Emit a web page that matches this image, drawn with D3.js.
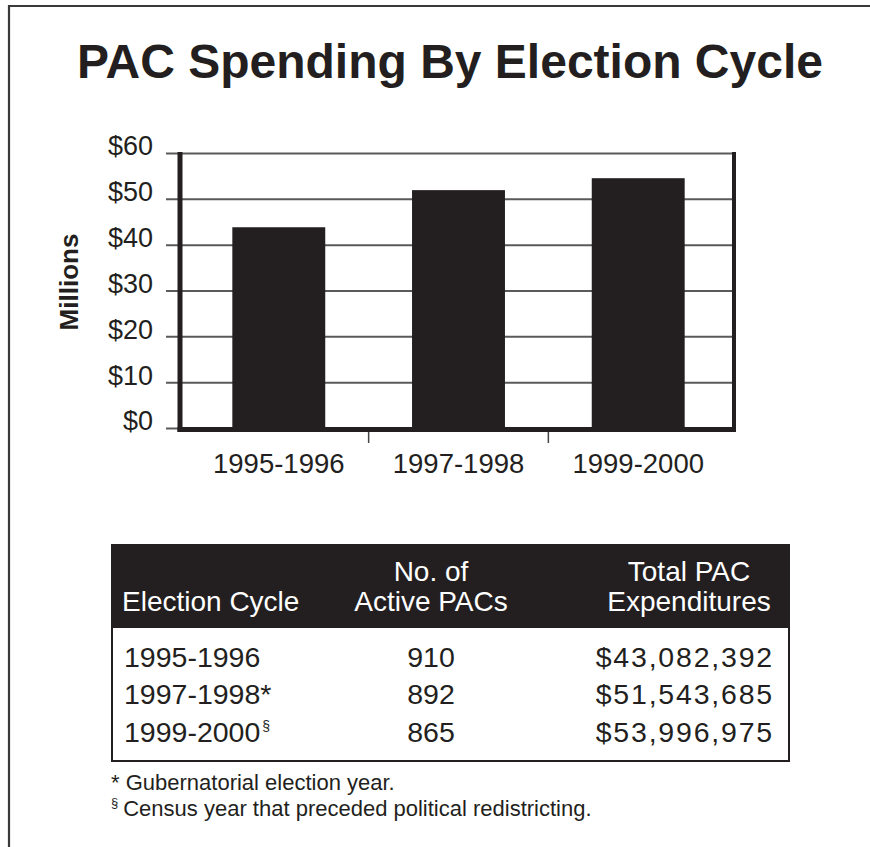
<!DOCTYPE html>
<html>
<head>
<meta charset="utf-8">
<script src="https://cdn.jsdelivr.net/npm/d3@7/dist/d3.min.js"></script>
<style>
  html, body { margin: 0; padding: 0; background: #fff; }
  svg { display: block; }
  text { font-family: "Liberation Sans", Arial, Helvetica, sans-serif; fill: #231f20; }
</style>
</head>
<body>
<svg id="chart" width="870" height="847"></svg>
<script>
// ---- data ----
const title = "PAC Spending By Election Cycle";
const yAxisTitle = "Millions";
const categories = ["1995-1996", "1997-1998", "1999-2000"];
const spendingMillions = [43.8, 51.9, 54.5];           // bar heights as drawn
const yTicks = [0, 10, 20, 30, 40, 50, 60];
const yTickLabels = ["$0", "$10", "$20", "$30", "$40", "$50", "$60"];

const tableHeaders = [["Election Cycle"], ["No. of", "Active PACs"], ["Total PAC", "Expenditures"]];
const tableCycles = ["1995-1996", "1997-1998", "1999-2000"];
const tableMarks = ["", "*", "§"];
const tablePACs = ["910", "892", "865"];
const tableExpenditures = ["$43,082,392", "$51,543,685", "$53,996,975"];
const footnoteMarks = ["*", "§"];
const footnotes = ["Gubernatorial election year.", "Census year that preceded political redistricting."];

// ---- drawing ----
const ink = "#231f20";
const svg = d3.select("#chart");

// outer frame (cropped on right/bottom)
svg.append("path").attr("d", "M9,847 V6 H870").attr("fill", "none")
   .attr("stroke", "#3a3a3a").attr("stroke-width", 2.2);

svg.append("text").attr("x", 450).attr("y", 78).attr("text-anchor", "middle")
   .attr("font-size", 48).attr("font-weight", "bold").text(title);

const plotL = 180, plotR = 733, plotT = 153, plotB = 428;

const y = d3.scaleLinear().domain([0, 60]).range([plotB, plotT]);
const x = d3.scaleBand().domain(categories).range([182, 735])
  .paddingInner(0.483).paddingOuter(0.28);

// y axis: ticks double as gridlines, placed at right edge
const yAxis = d3.axisLeft(y).tickValues(yTicks)
  .tickFormat((d, i) => yTickLabels[i])
  .tickSize(plotR - 166).tickPadding(13);
const gy = svg.append("g").attr("transform", `translate(${plotR},0)`).call(yAxis);
gy.select(".domain").remove();
gy.selectAll(".tick line").attr("stroke", "#5a5a5a").attr("stroke-width", 2);
gy.selectAll(".tick text").attr("font-size", 27).attr("dy", "0.07em")
  .attr("fill", ink).attr("font-family", '"Liberation Sans", Arial, sans-serif');

// bars
svg.append("g").selectAll("rect").data(categories).join("rect")
  .attr("x", d => x(d)).attr("width", x.bandwidth())
  .attr("y", (d, i) => y(spendingMillions[i]))
  .attr("height", (d, i) => plotB - y(spendingMillions[i]))
  .attr("fill", ink);

// frame: thick left, bottom, right
svg.append("line").attr("x1", plotL).attr("x2", plotL).attr("y1", plotT - 1).attr("y2", plotB + 4)
  .attr("stroke", ink).attr("stroke-width", 5);
svg.append("line").attr("x1", plotR + 1).attr("x2", plotR + 1).attr("y1", plotT - 1).attr("y2", plotB + 4)
  .attr("stroke", ink).attr("stroke-width", 4);
svg.append("line").attr("x1", plotL - 2.5).attr("x2", plotR + 3).attr("y1", plotB + 1.5).attr("y2", plotB + 1.5)
  .attr("stroke", ink).attr("stroke-width", 5);

// x axis labels
const xAxis = d3.axisBottom(x).tickSize(0).tickPadding(21);
const gx = svg.append("g").attr("transform", `translate(0,${plotB + 4})`).call(xAxis);
gx.select(".domain").remove();
gx.selectAll(".tick text").attr("font-size", 27.5).attr("fill", ink)
  .attr("font-family", '"Liberation Sans", Arial, sans-serif');

// separator ticks between categories
const seps = categories.slice(1).map((c, i) => (x(categories[i]) + x.bandwidth() + x(c)) / 2);
svg.append("g").selectAll("line").data(seps).join("line")
  .attr("x1", d => d).attr("x2", d => d).attr("y1", plotB + 4).attr("y2", plotB + 15)
  .attr("stroke", "#444").attr("stroke-width", 1.5);

// y axis title
svg.append("text").attr("transform", "translate(78,282) rotate(-90)")
  .attr("text-anchor", "middle").attr("font-size", 26).attr("font-weight", "bold").text(yAxisTitle);

// ---- table ----
const tL = 111, tR = 790, hT = 544, hB = 628, tB = 762;
svg.append("rect").attr("x", tL + 1).attr("y", hB - 1).attr("width", tR - tL - 2).attr("height", tB - hB)
  .attr("fill", "#fff").attr("stroke", ink).attr("stroke-width", 2);
svg.append("rect").attr("x", tL).attr("y", hT).attr("width", tR - tL).attr("height", hB - hT).attr("fill", ink);

const colX = [122, 431, 689];
const colAnchor = ["start", "middle", "middle"];
tableHeaders.forEach((lines, c) => {
  const n = lines.length;
  lines.forEach((ln, k) => {
    svg.append("text").attr("x", colX[c]).attr("y", 611 - (n - 1 - k) * 30)
      .attr("text-anchor", colAnchor[c]).attr("font-size", 28).style("fill", "#fff").text(ln);
  });
});

const rowY = [667, 704, 742];
tableCycles.forEach((cyc, r) => {
  const t = svg.append("text").attr("x", 124).attr("y", rowY[r]).attr("font-size", 28.5);
  t.append("tspan").text(cyc);
  if (tableMarks[r] === "*") t.append("tspan").text("*");
  else if (tableMarks[r]) t.append("tspan").attr("font-size", 14).attr("dy", -11).attr("dx", 2).text(tableMarks[r]);
  svg.append("text").attr("x", 431).attr("y", rowY[r]).attr("text-anchor", "middle")
    .attr("font-size", 28.5).text(tablePACs[r]);
  svg.append("text").attr("x", 774).attr("y", rowY[r]).attr("text-anchor", "end")
    .attr("font-size", 28.5).attr("letter-spacing", 1.8).text(tableExpenditures[r]);
});

// footnotes
const fnY = [790, 816];
footnotes.forEach((f, i) => {
  const t = svg.append("text").attr("x", 111).attr("y", fnY[i]).attr("font-size", 22);
  if (footnoteMarks[i] === "*") {
    t.append("tspan").text("* ");
    t.append("tspan").text(f);
  } else {
    t.append("tspan").attr("font-size", 13).attr("dy", -9).text(footnoteMarks[i]);
    t.append("tspan").attr("dy", 9).attr("dx", 5).text(f);
  }
});
</script>
</body>
</html>
